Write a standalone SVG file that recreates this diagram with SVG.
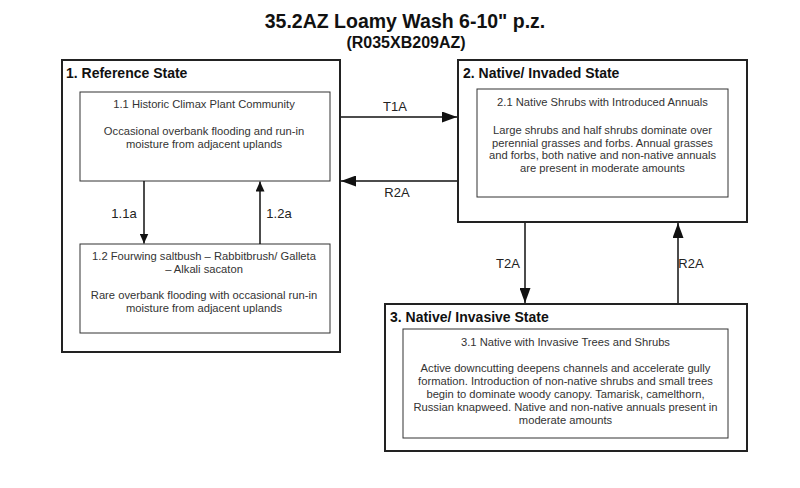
<svg xmlns="http://www.w3.org/2000/svg" width="800" height="488" viewBox="0 0 800 488">
<style>
.title{font-family:"Liberation Sans",Arial,sans-serif;font-weight:bold;fill:#111;text-anchor:middle}
.state{font-family:"Liberation Sans",Arial,sans-serif;font-weight:bold;font-size:14px;fill:#111}
.outer{fill:#fff;stroke:#222;stroke-width:2}
.inner{fill:#fff;stroke:#333;stroke-width:1}
.body{font-family:"Liberation Sans",Arial,sans-serif;font-size:11.2px;fill:#333;text-anchor:middle}
.lbl{font-family:"Liberation Sans",Arial,sans-serif;font-size:13px;fill:#222;text-anchor:middle}
.conn{stroke:#111;stroke-width:1.5;fill:none}
</style>
<defs>
<marker id="big" markerUnits="userSpaceOnUse" markerWidth="15" markerHeight="11" refX="15" refY="5.5" orient="auto">
<path d="M0,0 L15,5.5 L0,11 Z" fill="#111"/>
</marker>
<marker id="small" markerUnits="userSpaceOnUse" markerWidth="10" markerHeight="9" refX="10" refY="4.5" orient="auto">
<path d="M0,0 L10,4.5 L0,9 Z" fill="#111"/>
</marker>
</defs>
<rect width="800" height="488" fill="#fff"/>
<text class="title" x="405" y="28" font-size="19.5">35.2AZ Loamy Wash 6-10" p.z.</text>
<text class="title" x="406" y="48" font-size="16">(R035XB209AZ)</text>

<g id="state1">
<rect class="outer" x="62" y="60" width="278" height="292"/>
<text class="state" x="66" y="78">1. Reference State</text>
</g>
<g id="community1_1">
<rect class="inner" x="80" y="92" width="250" height="89"/>
<text class="body" x="204" y="108">1.1 Historic Climax Plant Community</text>
<text class="body" x="204" y="135">Occasional overbank flooding and run-in</text>
<text class="body" x="204" y="148">moisture from adjacent uplands</text>
</g>
<g id="community1_2">
<rect class="inner" x="80" y="244" width="250" height="89"/>
<text class="body" x="204" y="260">1.2 Fourwing saltbush – Rabbitbrush/ Galleta</text>
<text class="body" x="204" y="273">– Alkali sacaton</text>
<text class="body" x="204" y="299">Rare overbank flooding with occasional run-in</text>
<text class="body" x="204" y="312">moisture from adjacent uplands</text>
</g>
<g id="state2">
<rect class="outer" x="458" y="60" width="289" height="162"/>
<text class="state" x="463" y="78">2. Native/ Invaded State</text>
</g>
<g id="community2_1">
<rect class="inner" x="477" y="89" width="251" height="108"/>
<text class="body" x="602.5" y="106">2.1 Native Shrubs with Introduced Annuals</text>
<text class="body" x="602.5" y="134">Large shrubs and half shrubs dominate over</text>
<text class="body" x="602.5" y="146.5">perennial grasses and forbs. Annual grasses</text>
<text class="body" x="602.5" y="159">and forbs, both native and non-native annuals</text>
<text class="body" x="602.5" y="171.5">are present in moderate amounts</text>
</g>
<g id="state3">
<rect class="outer" x="385" y="304" width="362" height="147"/>
<text class="state" x="390" y="322">3. Native/ Invasive State</text>
</g>
<g id="community3_1">
<rect class="inner" x="403" y="329" width="325" height="109"/>
<text class="body" x="565.5" y="346">3.1 Native with Invasive Trees and Shrubs</text>
<text class="body" x="565.5" y="372">Active downcutting deepens channels and accelerate gully</text>
<text class="body" x="565.5" y="385">formation. Introduction of non-native shrubs and small trees</text>
<text class="body" x="565.5" y="398">begin to dominate woody canopy. Tamarisk, camelthorn,</text>
<text class="body" x="565.5" y="411">Russian knapweed. Native and non-native annuals present in</text>
<text class="body" x="565.5" y="424">moderate amounts</text>
</g>

<g id="connectors">
<line class="conn" x1="341" y1="117" x2="457" y2="117" marker-end="url(#big)"/>
<line class="conn" x1="457" y1="181" x2="341" y2="181" marker-end="url(#big)"/>
<line class="conn" x1="525" y1="223" x2="525" y2="303" marker-end="url(#big)"/>
<line class="conn" x1="678" y1="303" x2="678" y2="223" marker-end="url(#big)"/>
<line class="conn" x1="144" y1="181" x2="144" y2="243.5" marker-end="url(#small)"/>
<line class="conn" x1="260" y1="244" x2="260" y2="181.5" marker-end="url(#small)"/>
<text class="lbl" x="395" y="111">T1A</text>
<text class="lbl" x="397" y="197">R2A</text>
<text class="lbl" x="508" y="268">T2A</text>
<text class="lbl" x="691" y="268">R2A</text>
<text class="lbl" x="124" y="218">1.1a</text>
<text class="lbl" x="279" y="218">1.2a</text>
</g>
</svg>
